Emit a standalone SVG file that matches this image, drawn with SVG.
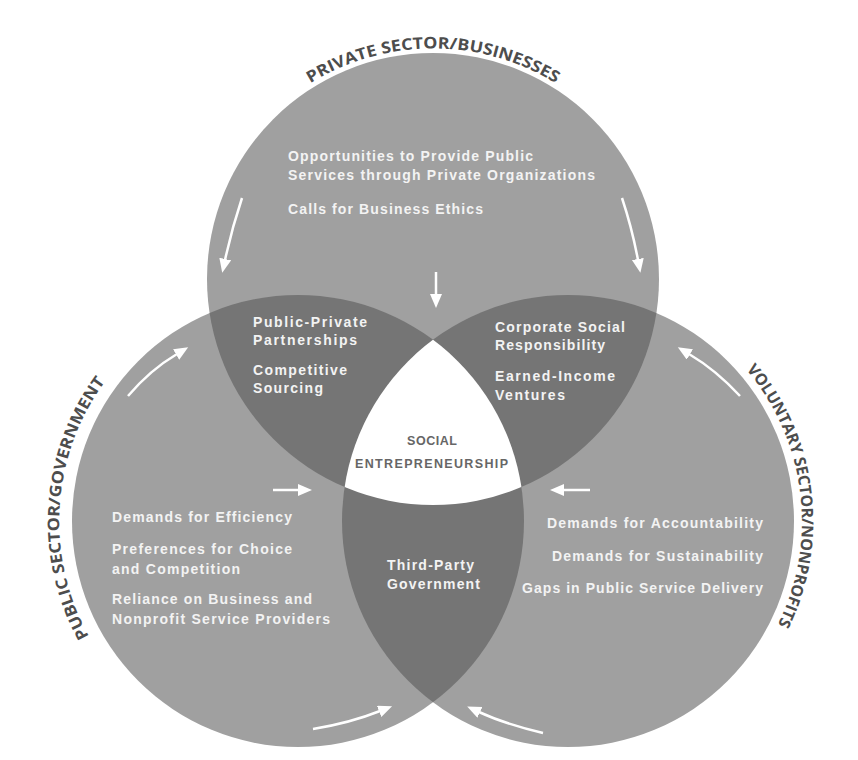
<svg xmlns="http://www.w3.org/2000/svg" xmlns:xlink="http://www.w3.org/1999/xlink" width="858" height="760" viewBox="0 0 858 760">
<style>
.body{font-family:"Liberation Sans","Open Sans",sans-serif;font-weight:700;font-size:14px;fill:#f3f3f3}
.title{font-family:"Open Sans","Liberation Sans",sans-serif;font-weight:700;font-size:16px;fill:#4d4d4d}
.center{font-family:"Liberation Sans","Open Sans",sans-serif;font-weight:700;font-size:12.5px;fill:#666666}
.circle{fill:#a0a0a0}
.overlap{fill:#757575}
.arrow{fill:none;stroke:#ffffff;stroke-width:2.5;marker-end:url(#head)}
</style>
<defs>
<clipPath id="cT"><circle cx="433" cy="279" r="226"/></clipPath>
<clipPath id="cL"><circle cx="298" cy="521" r="226"/></clipPath>
<clipPath id="cR"><circle cx="568" cy="521" r="226"/></clipPath>
<marker id="head" markerUnits="userSpaceOnUse" markerWidth="16" markerHeight="14" refX="1" refY="6" orient="auto">
<path d="M0,0 L14,6 L0,12 z" fill="#ffffff"/>
</marker>
<path id="arcT" d="M232.4,162 A234,234 0 0 1 633.6,162"/>
<path id="arcL" d="M184.6,730.6 A237,237 0 0 1 212.1,300"/>
<path id="arcR" d="M640.3,298.5 A234,234 0 0 1 692,719.4"/>
</defs>
<rect width="858" height="760" fill="#ffffff"/>
<g id="private-sector">
<circle class="circle" cx="433" cy="279" r="226"/>
</g>
<g id="public-sector">
<circle class="circle" cx="298" cy="521" r="226"/>
</g>
<g id="voluntary-sector">
<circle class="circle" cx="568" cy="521" r="226"/>
</g>
<g id="overlaps">
<circle class="overlap" cx="298" cy="521" r="226" clip-path="url(#cT)"/>
<circle class="overlap" cx="568" cy="521" r="226" clip-path="url(#cT)"/>
<circle class="overlap" cx="568" cy="521" r="226" clip-path="url(#cL)"/>
<g clip-path="url(#cT)"><circle cx="568" cy="521" r="226" fill="#ffffff" clip-path="url(#cL)"/></g>
</g>
<g id="private-sector-text">
<text class="title"><textPath href="#arcT" xlink:href="#arcT" startOffset="50%" text-anchor="middle" textLength="258" lengthAdjust="spacingAndGlyphs">PRIVATE SECTOR/BUSINESSES</textPath></text>
<text class="body" x="288" y="161" textLength="245" lengthAdjust="spacing">Opportunities to Provide Public</text>
<text class="body" x="288" y="180" textLength="307" lengthAdjust="spacing">Services through Private Organizations</text>
<text class="body" x="288" y="214" textLength="195" lengthAdjust="spacing">Calls for Business Ethics</text>
</g>
<g id="public-sector-text">
<text class="title"><textPath href="#arcL" xlink:href="#arcL" startOffset="50%" text-anchor="middle" textLength="270" lengthAdjust="spacingAndGlyphs">PUBLIC SECTOR/GOVERNMENT</textPath></text>
<text class="body" x="112" y="522" textLength="180" lengthAdjust="spacing">Demands for Efficiency</text>
<text class="body" x="112" y="554" textLength="180" lengthAdjust="spacing">Preferences for Choice</text>
<text class="body" x="112" y="574" textLength="128" lengthAdjust="spacing">and Competition</text>
<text class="body" x="112" y="604" textLength="200" lengthAdjust="spacing">Reliance on Business and</text>
<text class="body" x="112" y="624" textLength="218" lengthAdjust="spacing">Nonprofit Service Providers</text>
</g>
<g id="voluntary-sector-text">
<text class="title"><textPath href="#arcR" xlink:href="#arcR" startOffset="50%" text-anchor="middle" textLength="272" lengthAdjust="spacingAndGlyphs">VOLUNTARY SECTOR/NONPROFITS</textPath></text>
<text class="body" x="547" y="528" textLength="216" lengthAdjust="spacing">Demands for Accountability</text>
<text class="body" x="552" y="561" textLength="211" lengthAdjust="spacing">Demands for Sustainability</text>
<text class="body" x="522" y="593" textLength="241" lengthAdjust="spacing">Gaps in Public Service Delivery</text>
</g>
<g id="public-private">
<text class="body" x="253" y="327" textLength="114" lengthAdjust="spacing">Public-Private</text>
<text class="body" x="253" y="345" textLength="104" lengthAdjust="spacing">Partnerships</text>
<text class="body" x="253" y="375" textLength="94" lengthAdjust="spacing">Competitive</text>
<text class="body" x="253" y="393" textLength="70" lengthAdjust="spacing">Sourcing</text>
</g>
<g id="private-voluntary">
<text class="body" x="495" y="332" textLength="130" lengthAdjust="spacing">Corporate Social</text>
<text class="body" x="495" y="350" textLength="110" lengthAdjust="spacing">Responsibility</text>
<text class="body" x="495" y="381" textLength="120" lengthAdjust="spacing">Earned-Income</text>
<text class="body" x="495" y="400" textLength="70" lengthAdjust="spacing">Ventures</text>
</g>
<g id="public-voluntary">
<text class="body" x="387" y="570" textLength="87" lengthAdjust="spacing">Third-Party</text>
<text class="body" x="387" y="589" textLength="93" lengthAdjust="spacing">Government</text>
</g>
<g id="social-entrepreneurship">
<text class="center" x="407" y="445" textLength="50" lengthAdjust="spacing">SOCIAL</text>
<text class="center" x="355" y="468" textLength="153" lengthAdjust="spacing">ENTREPRENEURSHIP</text>
</g>
<g id="connectors">
<path class="arrow" d="M242,198 Q232,228 225,260"/>
<path class="arrow" d="M622,198 Q632,228 638,260"/>
<path class="arrow" d="M436,272 L436,295"/>
<path class="arrow" d="M128,396 Q150,370 177,354"/>
<path class="arrow" d="M740,396 Q716,370 689,354"/>
<path class="arrow" d="M273,490 L299,490"/>
<path class="arrow" d="M590,490 L563,490"/>
<path class="arrow" d="M313,729 Q350,723 380,711"/>
<path class="arrow" d="M543,733 Q505,724 479,712"/>
</g>
</svg>
